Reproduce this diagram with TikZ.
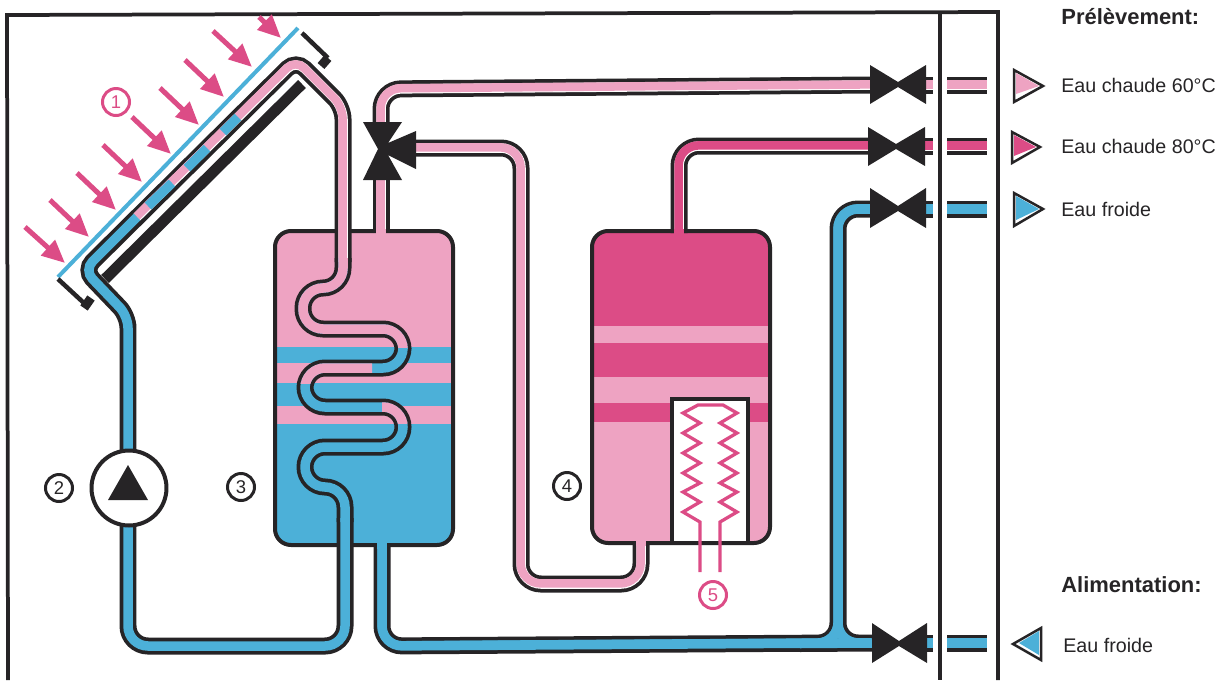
\documentclass[tikz,border=0pt]{standalone}
\usepackage{fontspec}
\setmainfont{Liberation Sans}
\usetikzlibrary{arrows.meta}

\definecolor{inkblack}{RGB}{38,36,38}
\definecolor{softpink}{RGB}{238,163,194}
\definecolor{hotpink}{RGB}{220,76,134}
\definecolor{coldblue}{RGB}{76,176,216}

\tikzset{
  pipeline/.style={line width=0.34cm,inkblack,rounded corners=0.4cm},
  pipebase/.style={line width=0.19cm,#1,rounded corners=0.4cm},
  pipefill/.style={line width=0.17cm,#1,rounded corners=0.4cm,yshift=0.012cm,xshift=-0.008cm},
  coilfill/.style={line width=0.19cm,#1,rounded corners=0.4cm},
  tankline/.style={line width=0.08cm,inkblack,rounded corners=0.32cm},
  framing/.style={line width=0.075cm,inkblack},
  sunray/.style={line width=0.1cm,hotpink,-{Triangle[length=0.46cm,width=0.4cm]}},
  bracketline/.style={line width=0.09cm,inkblack},
  bracketfoot/.style={line width=0.18cm,inkblack},
  valvefill/.style={fill=inkblack},
  legendline/.style={line width=0.05cm,inkblack,fill=white,line join=miter},
  numlabel/.style={circle,draw=#1,text=#1,line width=0.06cm,minimum size=0.54cm,inner sep=0pt,font=\fontsize{10.5}{12}\selectfont},
  legendtext/.style={anchor=west,inner sep=0pt,text=inkblack,font=\fontsize{11.2}{13}\selectfont},
  headtext/.style={anchor=west,inner sep=0pt,text=inkblack,font=\fontsize{12.5}{14}\selectfont\bfseries}
}

\newcommand{\pipe}[3]{%
  \draw[pipeline] #3;
  \draw[pipebase=#1] #3;
  \draw[pipefill=#2] #3;}
\newcommand{\coilroute}{(343,258) -- (343,288) -- (303,288) -- (303,329) -- (403,329) -- (403,368) -- (305,368) -- (305,407) -- (403,407) -- (403,447) -- (305,447) -- (305,487) -- (345,487) -- (345,522)}

\begin{document}
\begin{tikzpicture}[x=0.02cm,y=-0.02cm]
\path[use as bounding box] (0,0) rectangle (1224,680);

% frame
\draw[framing] (8,680) -- (7,15) -- (998,12) -- (998,680);
\draw[framing] (940,13) -- (940,680);

% collector
\draw[line width=0.08cm,coldblue] (58,277) -- (298,28);
\draw[line width=0.22cm,inkblack] (105,279) -- (302,84);
\draw[bracketline] (58,279) -- (85,304);
\draw[bracketfoot] (91,298) -- (84,308);
\draw[bracketline] (302,33) -- (328,58);
\draw[bracketfoot] (328,58) -- (321,66);

\draw[sunray] (25,227) -- (65,263);
\draw[sunray] (50,200) -- (89,237);
\draw[sunray] (77,173) -- (116,210);
\draw[sunray] (103,145) -- (142,182);
\draw[sunray] (132,117) -- (171,154);
\draw[sunray] (160,88) -- (199,125);
\draw[sunray] (185,60) -- (224,97);
\draw[sunray] (213,31) -- (252,67);
\draw[sunray] (259,17) -- (281,38);

% tank 3
\begin{scope}
\clip[rounded corners=0.32cm] (275,231) rectangle (453,545);
\fill[coldblue] (275,231) rectangle (453,545);
\fill[softpink] (275,231) rectangle (453,347);
\fill[softpink] (275,363) rectangle (453,383);
\fill[softpink] (275,406) rectangle (453,424);
\end{scope}
\draw[tankline] (275,231) rectangle (453,545);

% tank 4
\begin{scope}
\clip[rounded corners=0.32cm] (592,231) rectangle (770,543);
\fill[softpink] (592,231) rectangle (770,543);
\fill[hotpink] (592,231) rectangle (770,326);
\fill[hotpink] (592,343) rectangle (770,377);
\fill[hotpink] (592,403) rectangle (770,422);
\end{scope}
\draw[tankline] (592,231) rectangle (770,543);
\draw[line width=0.07cm,inkblack,fill=white] (748,541) -- (748,399) -- (672,399) -- (672,541);

% heater
\draw[line width=0.065cm,hotpink] (700,572) -- (700,522) -- (683,512) -- (700,502) -- (683,492) -- (700,483)
-- (683,473) -- (700,463) -- (683,453) -- (700,443) -- (683,433) -- (700,423) -- (683,413) -- (698,405)
-- (723,405) -- (737,413) -- (720,423) -- (737,433) -- (720,443) -- (737,453) -- (720,463) -- (737,473)
-- (720,483) -- (737,492) -- (720,502) -- (737,512) -- (720,522) -- (720,572);

% solar circuit
\draw[pipeline,rounded corners=0.24cm] (128,450) -- (128,316) -- (84,270) -- (296,60) -- (343,107) -- (343,262);
\draw[pipeline] \coilroute;
\draw[pipeline] (345,518) -- (345,646) -- (128,646) -- (128,525);
\draw[pipebase=white,rounded corners=0.24cm] (137,217) -- (296,60) -- (343,107) -- (343,262);
\draw[pipefill=softpink,rounded corners=0.24cm] (137,217) -- (296,60) -- (343,107) -- (343,262);
\draw[coilfill=coldblue,rounded corners=0.24cm] (128,450) -- (128,316) -- (84,270) -- (137,217);
\draw[coilfill=coldblue] (148,206) -- (172,183);
\draw[coilfill=coldblue] (187,168) -- (207,148);
\draw[coilfill=coldblue] (223,132) -- (238,117);
\draw[coilfill=coldblue] \coilroute;
\draw[coilfill=coldblue] (345,518) -- (345,646) -- (128,646) -- (128,525);
\begin{scope}
\clip (290,255) rectangle (420,347);
\draw[coilfill=softpink] \coilroute;
\end{scope}
\begin{scope}
\clip (290,355) rectangle (372,383);
\draw[coilfill=softpink] \coilroute;
\end{scope}
\begin{scope}
\clip (382,395) rectangle (420,423);
\draw[coilfill=softpink] \coilroute;
\end{scope}

% water pipes
\pipe{white}{softpink}{(381,233) -- (381,178)}
\pipe{white}{softpink}{(381,124) -- (381,89) -- (872,85)}
\pipe{white}{softpink}{(414,148) -- (521,148) -- (521,584) -- (641,584) -- (641,544)}
\pipe{white}{hotpink}{(679,233) -- (679,146) -- (872,146)}
\pipe{coldblue}{coldblue}{(382,547) -- (382,646) -- (838,643) -- (838,209) -- (872,209) (838,600) -- (838,643) -- (872,643) (800,643.5) -- (872,643)}
\fill[softpink] (376,229) rectangle (386,236);
\fill[hotpink] (674,229) rectangle (684,236);
\fill[softpink] (636,539) rectangle (646,546);
\fill[coldblue] (377,541) rectangle (387,549);

\pipe{white}{softpink}{(925,85) -- (933,85)}
\pipe{white}{softpink}{(947,85) -- (987,85)}
\pipe{white}{hotpink}{(925,146) -- (933,146)}
\pipe{white}{hotpink}{(947,146) -- (987,146)}
\pipe{coldblue}{coldblue}{(925,209) -- (933,209)}
\pipe{coldblue}{coldblue}{(947,209) -- (987,209)}
\pipe{coldblue}{coldblue}{(925,643) -- (933,643)}
\pipe{coldblue}{coldblue}{(947,643) -- (987,643)}

% valves
\fill[valvefill] (363,122) -- (402,122) -- (388,143) -- (416,131) -- (416,169) -- (388,155) -- (402,180) -- (363,180) -- (378,149) -- cycle;
\fill[valvefill] (870,65) -- (898,82) -- (926,65) -- (926,104) -- (898,87) -- (870,104) -- cycle;
\fill[valvefill] (868,127) -- (896,144) -- (925,127) -- (925,166) -- (896,149) -- (868,166) -- cycle;
\fill[valvefill] (870,188) -- (898,206) -- (926,188) -- (926,228) -- (898,211) -- (870,228) -- cycle;
\fill[valvefill] (872,623) -- (899,641) -- (927,623) -- (927,663) -- (899,646) -- (872,663) -- cycle;

% pump
\node[circle,draw=inkblack,fill=white,line width=0.08cm,minimum size=1.5cm,inner sep=0pt] (pump) at (129,488) {};
\fill[inkblack] (108,500) -- (148,500) -- (128,465) -- cycle;

% numbers
\node[numlabel=hotpink] (num1) at (116,102) {1};
\node[numlabel=inkblack] (num2) at (59,488) {2};
\node[numlabel=inkblack] (num3) at (241,487) {3};
\node[numlabel=inkblack] (num4) at (567,486) {4};
\node[numlabel=hotpink] (num5) at (713,595) {5};

% legend
\draw[legendline] (1014,70) -- (1043,86) -- (1014,102) -- cycle;
\fill[softpink] (1016,73) -- (1039,86) -- (1016,94) -- cycle;
\draw[legendline] (1012,132) -- (1040,147) -- (1012,163) -- cycle;
\fill[hotpink] (1014,135) -- (1036,147) -- (1014,156) -- cycle;
\draw[legendline] (1014,193) -- (1043,209) -- (1014,226) -- cycle;
\fill[coldblue] (1016,196) -- (1039,209) -- (1016,220) -- cycle;
\draw[legendline] (1041,628) -- (1013,644) -- (1041,660) -- cycle;
\fill[coldblue] (1039,631) -- (1019,643) -- (1039,655) -- cycle;

\node[headtext] (head1) at (1061,17) {Prélèvement:};
\node[legendtext] (warm1) at (1061,85) {Eau chaude 60°C};
\node[legendtext] (hot1) at (1061,146) {Eau chaude 80°C};
\node[legendtext] (water1) at (1061,209) {Eau froide};
\node[headtext] (head2) at (1061,585) {Alimentation:};
\node[legendtext] (water2) at (1063,645) {Eau froide};
\end{tikzpicture}
\end{document}
